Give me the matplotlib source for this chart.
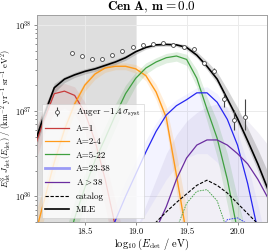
import numpy as np
import matplotlib
matplotlib.use("Agg")
import matplotlib.pyplot as plt
from matplotlib.lines import Line2D

plt.rcParams.update({
    "font.family": "serif",
    "font.serif": ["cmr10", "DejaVu Serif"],
    "mathtext.fontset": "cm",
    "axes.formatter.use_mathtext": True,
    "axes.unicode_minus": False,
})

nan = np.nan

# ---------------- data ----------------
# Auger points, flux in units of 1e37 km^-2 yr^-1 sr^-1 eV^2
auger_logE = [18.37, 18.47, 18.57, 18.67, 18.77, 18.87, 18.97, 19.07, 19.17,
              19.27, 19.37, 19.47, 19.57, 19.67, 19.77, 19.87, 19.97, 20.07]
auger_flux = [4.76, 4.37, 4.03, 4.07, 4.47, 5.01, 5.50, 5.89, 5.96,
              6.12, 5.81, 5.62, 5.25, 3.59, 2.95, 1.37, 0.79, 0.85]
auger_err_lo = [0.08, 0.07, 0.06, 0.06, 0.06, 0.07, 0.08, 0.09, 0.10,
                0.10, 0.10, 0.10, 0.12, 0.12, 0.20, 0.25, 0.19, 0.25]
auger_err_hi = [0.08, 0.07, 0.06, 0.06, 0.06, 0.07, 0.08, 0.09, 0.10,
                0.10, 0.10, 0.10, 0.12, 0.12, 0.20, 0.25, 0.23, 0.52]

# model grid, log10(E/eV)
grid_logE = [18.0, 18.1, 18.2, 18.3, 18.4, 18.5, 18.6, 18.7, 18.8, 18.9, 19.0, 19.1,
             19.2, 19.3, 19.4, 19.5, 19.6, 19.7, 19.8, 19.9, 20.0, 20.1, 20.2, 20.3]

# curves stored as log10(flux)
mle_total = [36.6, 36.95, 37.27, 37.37, 37.42, 37.46, 37.49, 37.53, 37.57, 37.62, 37.69, 37.74,
             37.77, 37.775, 37.77, 37.74, 37.65, 37.52, 37.37, 37.14, 36.91, 36.65, 36.38, 36.08]
total_hi = [36.72, 37.03, 37.32, 37.40, 37.45, 37.49, 37.52, 37.56, 37.60, 37.65, 37.71, 37.76,
            37.79, 37.795, 37.79, 37.77, 37.69, 37.58, 37.45, 37.25, 37.04, 36.80, 36.55, 36.28]
total_lo = [36.5, 36.86, 37.21, 37.33, 37.39, 37.43, 37.46, 37.50, 37.54, 37.59, 37.66, 37.72,
            37.75, 37.755, 37.75, 37.71, 37.62, 37.48, 37.32, 37.09, 36.85, 36.58, 36.30, 36.00]

mle_a1 = [36.55, 36.9, 37.2, 37.23, 37.18, 36.98, 36.65, 36.2, 35.65, 35.0, nan, nan,
          nan, nan, nan, nan, nan, nan, nan, nan, nan, nan, nan, nan]
a1_hi = [36.72, 37.05, 37.28, 37.32, 37.28, 37.1, 36.82, 36.42, 35.95, 35.45, nan, nan,
         nan, nan, nan, nan, nan, nan, nan, nan, nan, nan, nan, nan]
a1_lo = [36.35, 36.72, 36.98, 37.03, 36.96, 36.75, 36.38, 35.88, 35.3, 35.0, nan, nan,
         nan, nan, nan, nan, nan, nan, nan, nan, nan, nan, nan, nan]

mle_a2 = [35.5, 35.95, 36.4, 36.78, 37.08, 37.30, 37.43, 37.50, 37.52, 37.52, 37.49, 37.41,
          37.22, 36.92, 36.25, 35.55, nan, nan, nan, nan, nan, nan, nan, nan]
a2_hi = [35.75, 36.12, 36.52, 36.87, 37.14, 37.34, 37.47, 37.54, 37.56, 37.56, 37.54, 37.47,
         37.31, 37.05, 36.5, 35.85, 35.3, nan, nan, nan, nan, nan, nan, nan]
a2_lo = [35.25, 35.75, 36.25, 36.66, 36.98, 37.23, 37.37, 37.45, 37.48, 37.48, 37.44, 37.35,
         37.13, 36.8, 36.05, 35.35, nan, nan, nan, nan, nan, nan, nan, nan]

mle_a3 = [nan, nan, nan, 35.3, 35.75, 36.1, 36.42, 36.68, 36.95, 37.2, 37.38, 37.5,
          37.57, 37.62, 37.64, 37.6, 37.38, 37.02, 36.68, 36.2, 35.6, 35.0, nan, nan]
a3_hi = [nan, nan, nan, 35.55, 35.95, 36.27, 36.57, 36.82, 37.08, 37.3, 37.45, 37.56,
         37.62, 37.67, 37.69, 37.66, 37.48, 37.16, 36.88, 36.50, 35.98, 35.5, nan, nan]
a3_lo = [nan, nan, nan, 35.1, 35.55, 35.9, 36.25, 36.53, 36.8, 37.07, 37.29, 37.43,
         37.51, 37.56, 37.58, 37.53, 37.28, 36.88, 36.46, 35.90, 35.35, 35.0, nan, nan]

mle_a4 = [nan, nan, nan, nan, nan, nan, nan, 35.4, 35.72, 36.0, 36.26, 36.52,
          36.76, 36.95, 37.06, 37.13, 37.21, 37.21, 37.1, 36.9, 36.6, 36.15, 35.6, 35.0]
a4_hi = [nan, nan, nan, nan, nan, nan, nan, 35.6, 35.9, 36.18, 36.42, 36.66,
         36.86, 37.03, 37.13, 37.2, 37.27, 37.28, 37.2, 37.02, 36.75, 36.38, 35.9, 35.4]
a4_lo = [nan, nan, nan, nan, nan, nan, nan, 35.0, 35.2, 35.4, 35.6, 35.8,
         36.0, 36.2, 36.35, 36.45, 36.5, 36.5, 36.4, 36.2, 35.9, 35.5, 35.0, 35.0]

mle_a5 = [nan, nan, nan, nan, nan, nan, nan, nan, nan, nan, nan, 35.2,
          35.62, 35.88, 36.2, 36.45, 36.6, 36.66, 36.66, 36.6, 36.5, 36.38, 36.2, 35.98]
a5_hi = [nan, nan, nan, nan, nan, nan, nan, nan, nan, nan, 35.6, 35.9,
         36.2, 36.5, 36.72, 36.88, 36.98, 37.05, 37.08, 37.05, 36.98, 36.88, 36.75, 36.6]
a5_lo = [nan, nan, nan, nan, nan, nan, nan, nan, nan, nan, 35.0, 35.0,
         35.0, 35.0, 35.0, 35.0, 35.0, 35.0, 35.0, 35.0, 35.0, 35.0, 35.0, 35.0]

catalog = [nan, nan, nan, nan, nan, nan, nan, nan, nan, nan, nan, 35.55,
           35.70, 35.82, 35.93, 36.03, 36.13, 36.19, 36.13, 36.04, 35.92, 35.80, 35.68, 35.55]
catalog_a3 = [nan, nan, nan, nan, nan, nan, nan, nan, nan, nan, nan, nan,
              nan, 35.3, 35.62, 35.92, 36.06, 36.08, 35.95, 35.6, 35.2, nan, nan, nan]
catalog_a4 = [nan, nan, nan, nan, nan, nan, nan, nan, nan, nan, nan, nan,
              nan, nan, nan, nan, nan, 35.3, 35.55, 35.73, 35.75, 35.68, 35.45, nan]

shade_max = 19.0

colors = {"a1": "#c83c3c", "a2": "#ff9a1a", "a3": "#3fa040",
          "a4": "#2626f2", "a5": "#6a2da0"}

# ---------------- figure ----------------
x = np.array(grid_logE)
def lin(v):
    return 10 ** np.array(v, dtype=float)

fig, ax = plt.subplots(figsize=(2.7, 2.52), dpi=100)
fig.subplots_adjust(left=0.137, right=0.989, bottom=0.118, top=0.94)

ax.axvspan(17.9, shade_max, color="#dedede", zorder=0.2, lw=0)
ax.set_axisbelow(True)
ax.grid(True, which="major", color="#ebebeb", lw=0.7)

# sample bands (the thin sample curves)
ax.fill_between(x, lin(a5_lo), lin(a5_hi), color="#a89cc8", alpha=0.16, lw=0, zorder=1)
ax.fill_between(x, lin(a4_lo), lin(a4_hi), color="#8080ff", alpha=0.09, lw=0, zorder=1.1)
ax.fill_between(x, lin(a1_lo), lin(a1_hi), color=colors["a1"], alpha=0.1, lw=0, zorder=1.2)
ax.fill_between(x, lin(a2_lo), lin(a2_hi), color=colors["a2"], alpha=0.16, lw=0, zorder=1.2)
ax.fill_between(x, lin(a3_lo), lin(a3_hi), color=colors["a3"], alpha=0.16, lw=0, zorder=1.2)
ax.fill_between(x, lin(total_lo), lin(total_hi), color="#444444", alpha=0.22, lw=0, zorder=1.3)

# MLE lines
ax.plot(x, lin(mle_a1), color=colors["a1"], lw=0.9, zorder=3)
ax.plot(x, lin(mle_a2), color=colors["a2"], lw=1.0, zorder=3)
ax.plot(x, lin(mle_a3), color=colors["a3"], lw=0.9, zorder=3)
ax.plot(x, lin(mle_a4), color=colors["a4"], lw=0.9, zorder=3)
ax.plot(x, lin(mle_a5), color=colors["a5"], lw=0.9, zorder=3)
ax.plot(x, lin(catalog), color="black", lw=0.8, ls=(0, (3, 1.5)), zorder=3)
ax.plot(x, lin(catalog_a3), color=colors["a3"], lw=0.6, ls=(0, (2, 1.2)), zorder=3)
ax.plot(x, lin(catalog_a4), color=colors["a4"], lw=0.6, ls=(0, (2, 1.2)), zorder=3)
ax.plot(x, lin(mle_total), color="black", lw=1.2, zorder=4)

y = np.array(auger_flux) * 1e37
yerr = [np.array(auger_err_lo) * 1e37, np.array(auger_err_hi) * 1e37]
ax.errorbar(auger_logE, y, yerr=yerr, fmt="o", ms=2.8, mfc="white", mec="#444444",
            mew=0.6, ecolor="#444444", elinewidth=0.8, capsize=0, zorder=5)

ax.set_yscale("log")
ax.set_xlim(18.03, 20.29)
ax.set_ylim(5e35, 1.31e38)
ax.set_xticks([18.5, 19.0, 19.5, 20.0])
ax.set_xticklabels(["18.5", "19.0", "19.5", "20.0"])
ax.tick_params(which="both", labelsize=6.2, color="#777777", width=0.6, pad=1.5)
ax.tick_params(which="major", length=2.5)
ax.tick_params(which="minor", length=1.5)
for s in ax.spines.values():
    s.set_color("#a0a0a0")
    s.set_linewidth(0.7)

ax.set_xlabel(r"$\log_{10}(E_{\rm det}\ /\ {\rm eV})$", fontsize=7.6, labelpad=0.5)
ax.set_ylabel(r"$E^3_{\rm det}\,J_{\rm det}(E_{\rm det})\ /\ ({\rm km^{-2}\ yr^{-1}\ sr^{-1}\ eV^{2}})$",
              fontsize=6.0)
ax.yaxis.set_label_coords(-0.098, 0.5)
ax.set_title(r"$\mathbf{Cen\ A}$, $\mathbf{m = 0.0}$", fontsize=9.5, pad=3)

handles = [
    ax.containers[0],
    Line2D([], [], color=colors["a1"], lw=0.9),
    Line2D([], [], color=colors["a2"], lw=0.9),
    Line2D([], [], color=colors["a3"], lw=0.9),
    Line2D([], [], color="#9a9af5", lw=2.0),
    Line2D([], [], color=colors["a5"], lw=0.9),
    Line2D([], [], color="black", lw=0.8, ls=(0, (3, 1.5))),
    Line2D([], [], color="black", lw=1.2),
]
labels = [r"Auger $-1.4\,\sigma_{\rm syst}$", "A=1", "A=2-4", "A=5-22", "A=23-38",
          r"A$>$38", "catalog", "MLE"]
leg = ax.legend(handles, labels, loc="lower left", fontsize=6.5, frameon=True,
                framealpha=0.8, edgecolor="#cccccc", fancybox=False,
                labelspacing=0.55, handlelength=2.6, borderaxespad=0.5)
leg.get_frame().set_linewidth(0.5)
leg.set_zorder(10)

fig.savefig("out.png", dpi=100)
